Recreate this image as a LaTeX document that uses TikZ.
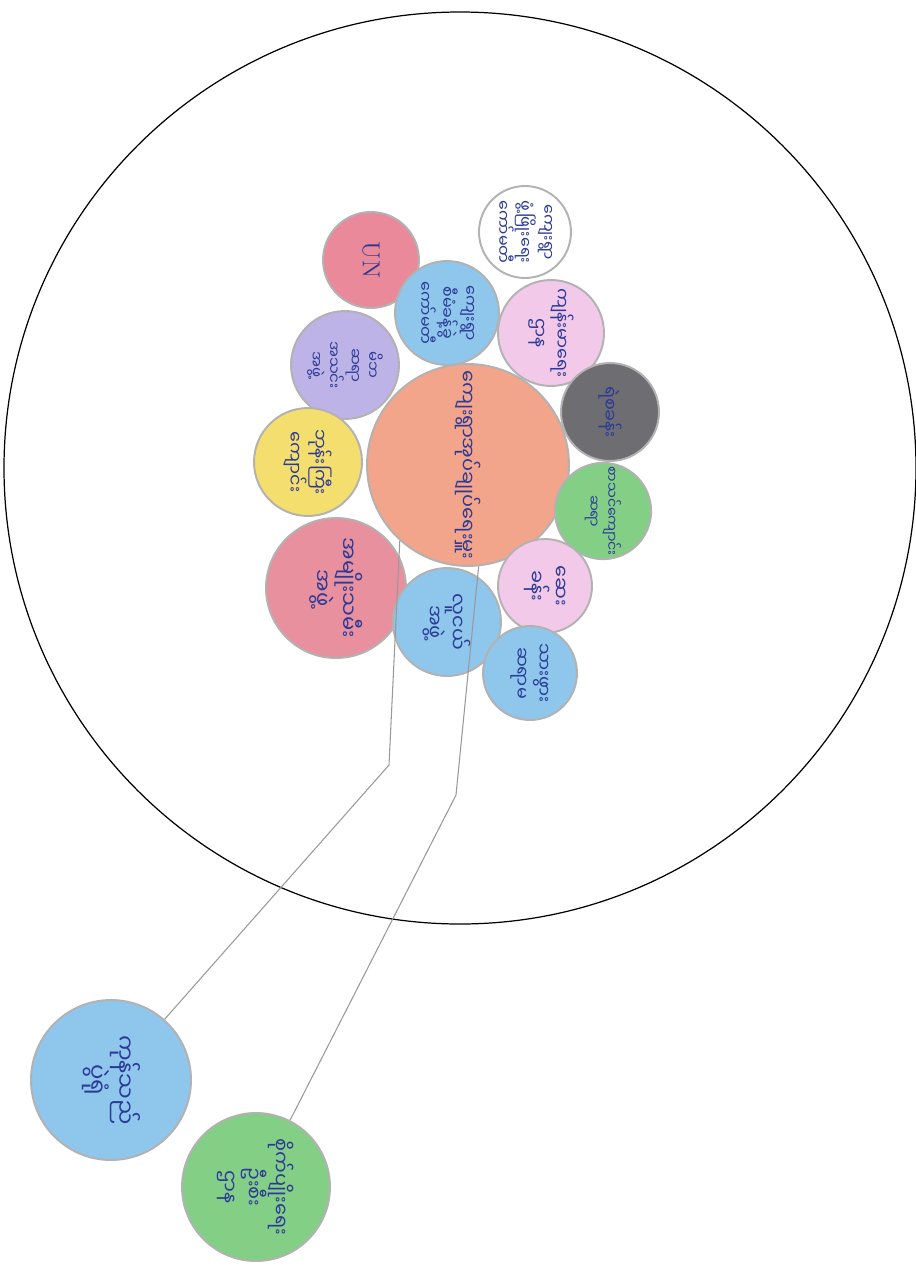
\documentclass[tikz,border=0pt]{standalone}
\usepackage{fontspec}
\newfontfamily\mya[Script=Myanmar]{Noto Sans Myanmar UI}
\usetikzlibrary{positioning}

\definecolor{ink}{HTML}{2B3A96}
\definecolor{orangecr}{HTML}{F2A58A}
\definecolor{redcr}{HTML}{E9899A}
\definecolor{bluecr}{HTML}{8FC6EC}
\definecolor{pinkcr}{HTML}{F3C9EA}
\definecolor{purplecr}{HTML}{BDB3E6}
\definecolor{graycr}{HTML}{6E6E72}
\definecolor{yellowcr}{HTML}{F4DE6E}
\definecolor{greencr}{HTML}{84CF86}
\definecolor{rosecr}{HTML}{E8909E}

\begin{document}
\begin{tikzpicture}[
    x=0.02cm, y=0.02cm,
    org/.style={circle, draw=gray!60, line width=1.1pt, inner sep=0pt, rotate=-90, align=center, text=ink, font=\mya\fontsize{9}{10.5}\selectfont},
    link/.style={gray!80, line width=0.6pt},
  ]
    \fill[white] (0,0) rectangle (916,-1268);
    \useasboundingbox (0,0) rectangle (916,-1268);
    % village boundary
    \draw[line width=0.7pt] (460,-468) circle [radius=456];

    \node[org, fill=orangecr, minimum size=4.04cm, font=\mya\fontsize{11}{13}\selectfont] (admin) at (468,-465) {ကျေးရွာအုပ်ချုပ်ရေးမှူး};
    \node[org, fill=white, minimum size=1.84cm] (devcom) at (525,-232) {ကျေးရွာ\\ဖွံ့ဖြိုးရေး\\ကော်မတီ};
    \node[org, fill=redcr, minimum size=1.92cm, font=\fontsize{14}{16}\selectfont] (un) at (371,-260) {UN};
    \node[org, fill=bluecr, minimum size=2.08cm] (mgmt) at (447,-313) {ကျေးရွာ\\စီမံခန့်ခွဲ\\ကော်မတီ};
    \node[org, fill=pinkcr, minimum size=2.12cm, font=\mya\fontsize{10}{12.5}\selectfont] (health) at (551,-333) {ကျန်းမာရေး\\ဌာန};
    \node[org, fill=purplecr, minimum size=2.16cm, font=\mya\fontsize{8.5}{10}\selectfont] (parent) at (345,-365) {မိဘ\\ဆရာ\\အသင်း\\အဖွဲ့};
    \node[org, fill=graycr, minimum size=1.96cm, font=\mya\fontsize{10}{12}\selectfont] (police) at (610,-412) {ရဲစခန်း};
    \node[org, fill=yellowcr, minimum size=2.16cm, font=\mya\fontsize{10}{12.5}\selectfont] (monk) at (308,-462) {ဘုန်းကြီး\\ကျောင်း};
    \node[org, fill=greencr, minimum size=1.92cm, font=\mya\fontsize{8}{10}\selectfont] (school) at (603,-511) {စာသင်ကျောင်း\\ဆရာ};
    \node[org, fill=rosecr, minimum size=2.8cm, font=\mya\fontsize{12}{15}\selectfont] (women) at (336,-588) {အမျိုးသမီး\\အဖွဲ့};
    \node[org, fill=bluecr, minimum size=2.16cm, font=\mya\fontsize{11}{13.5}\selectfont] (youth) at (447,-622) {လူငယ်\\အဖွဲ့};
    \node[org, fill=pinkcr, minimum size=1.88cm, font=\mya\fontsize{11}{13.5}\selectfont] (clinic) at (545,-586) {ဆေး\\ခန်း};
    \node[org, fill=bluecr, minimum size=1.88cm, font=\mya\fontsize{10}{12.5}\selectfont] (midwife) at (530,-673) {သားဖွား\\ဆရာမ};

    % outside the village
    \node[org, fill=bluecr, minimum size=3.2cm, font=\mya\fontsize{13}{16}\selectfont] (trade) at (111,-1080) {ကုန်သည်\\ပွဲရုံ};
    \node[org, fill=greencr, minimum size=2.96cm, font=\mya\fontsize{11}{13.5}\selectfont] (farm) at (256,-1187) {စိုက်ပျိုးရေး\\ဦးစီး\\ဌာန};

    \coordinate (bendA) at (389,-765);
    \coordinate (bendB) at (456,-795);
    \draw[link] (admin.318) -- (bendA) -- (trade);
    \draw[link] (admin.6) -- (bendB) -- (farm);
\end{tikzpicture}
\end{document}
